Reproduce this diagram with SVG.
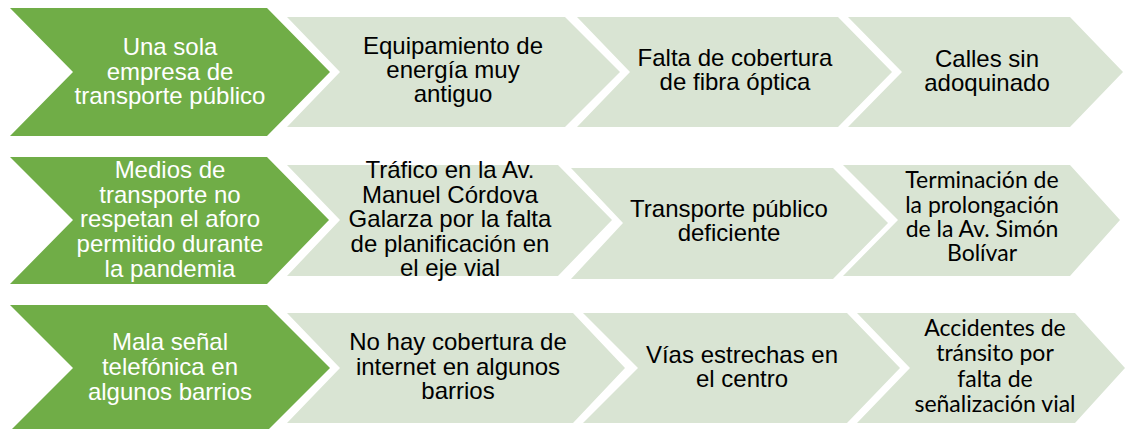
<svg xmlns="http://www.w3.org/2000/svg" width="1126" height="429" viewBox="0 0 1126 429">
<style>
.g{fill:#70AD47}
.l{fill:#D9E4D3}
text{font-family:"Liberation Sans",Arial,sans-serif;font-size:24px;text-anchor:middle}
.w{fill:#FFFFFF}
.b{fill:#000000}
.c{font-family:Lato,"Noto Sans",sans-serif;font-size:23px}
</style>
<rect width="1126" height="429" fill="#FFFFFF"/>
<g id="row1-main">
<polygon class="g" points="10,8 267,8 330,72 267,136 10,136 73,72"/>
<text class="w" x="170"><tspan x="170" y="55">Una sola</tspan><tspan x="170" y="80">empresa de</tspan><tspan x="170" y="104">transporte público</tspan></text>
</g>
<g id="row1-c1">
<polygon class="l" points="287,17 565,17 620,72 565,127 287,127 340,72"/>
<text class="b"><tspan x="453" y="54">Equipamiento de</tspan><tspan x="453" y="78">energía muy</tspan><tspan x="453" y="102">antiguo</tspan></text>
</g>
<g id="row1-c2">
<polygon class="l" points="577,17 838,17 892,72 838,127 577,127 630,72"/>
<text class="b"><tspan x="735" y="66">Falta de cobertura</tspan><tspan x="735" y="90">de fibra óptica</tspan></text>
</g>
<g id="row1-c3">
<polygon class="l" points="848,17 1070,17 1123,72 1070,127 848,127 902,72"/>
<text class="b"><tspan x="987" y="67">Calles sin</tspan><tspan x="987" y="91">adoquinado</tspan></text>
</g>
<g id="row2-main">
<polygon class="g" points="10,157 267,157 329,220 267,284 10,284 73,220"/>
<text class="w"><tspan x="170" y="178">Medios de</tspan><tspan x="170" y="203">transporte no</tspan><tspan x="170" y="227">respetan el aforo</tspan><tspan x="170" y="252">permitido durante</tspan><tspan x="170" y="277">la pandemia</tspan></text>
</g>
<g id="row2-c1">
<polygon class="l" points="287,165 558,165 612,220 558,276 287,276 340,220"/>
<text class="b"><tspan x="450" y="178">Tráfico en la Av.</tspan><tspan x="450" y="203">Manuel Córdova</tspan><tspan x="450" y="227">Galarza por la falta</tspan><tspan x="450" y="252">de planificación en</tspan><tspan x="450" y="276">el eje vial</tspan></text>
</g>
<g id="row2-c2">
<polygon class="l" points="571,168 833,168 888,223 833,279 571,279 623,223"/>
<text class="b"><tspan x="729" y="217">Transporte público</tspan><tspan x="729" y="241">deficiente</tspan></text>
</g>
<g id="row2-c3">
<polygon class="l" points="843,165 1070,165 1120,220 1070,276 843,276 898,220"/>
<text class="b c"><tspan x="982" y="188">Terminación de</tspan><tspan x="982" y="213">la prolongación</tspan><tspan x="982" y="237">de la Av. Simón</tspan><tspan x="982" y="261">Bolívar</tspan></text>
</g>
<g id="row3-main">
<polygon class="g" points="10,305 267,305 330,368 267,431 10,431 73,368"/>
<text class="w"><tspan x="170" y="350">Mala señal</tspan><tspan x="170" y="375">telefónica en</tspan><tspan x="170" y="400">algunos barrios</tspan></text>
</g>
<g id="row3-c1">
<polygon class="l" points="287,313 573,313 625,368 573,423 287,423 340,368"/>
<text class="b"><tspan x="458" y="350">No hay cobertura de</tspan><tspan x="458" y="375">internet en algunos</tspan><tspan x="458" y="399">barrios</tspan></text>
</g>
<g id="row3-c2">
<polygon class="l" points="583,313 847,313 900,368 847,423 583,423 638,368"/>
<text class="b"><tspan x="742" y="363">Vías estrechas en</tspan><tspan x="742" y="387">el centro</tspan></text>
</g>
<g id="row3-c3">
<polygon class="l" points="857,313 1075,313 1125,368 1075,423 857,423 910,368"/>
<text class="b c"><tspan x="995" y="336">Accidentes de</tspan><tspan x="995" y="361">tránsito por</tspan><tspan x="995" y="387">falta de</tspan><tspan x="995" y="412">señalización vial</tspan></text>
</g>
</svg>
